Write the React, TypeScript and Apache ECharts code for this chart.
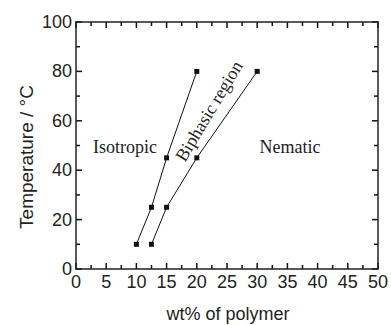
import React, { useEffect, useRef } from "react";
import * as echarts from "echarts";

const isotropicBoundary: [number, number][] = [
  [10, 10],
  [12.5, 25],
  [15, 45],
  [20, 80],
];
const nematicBoundary: [number, number][] = [
  [12.5, 10],
  [15, 25],
  [20, 45],
  [30, 80],
];
const xTitle = "wt% of polymer";
const yTitle = "Temperature / °C";
const regionLabels = ["Isotropic", "Biphasic region", "Nematic"];

const X_MIN = 0;
const X_MAX = 50;
const X_STEP = 5;
const Y_MIN = 0;
const Y_MAX = 100;
const Y_STEP = 20;

const SANS = "'Liberation Sans', Arial, sans-serif";
const SERIF = "'Liberation Serif', 'Times New Roman', serif";

export default function App() {
  const ref = useRef<HTMLDivElement>(null);
  useEffect(() => {
    document.body.style.margin = "0";
    if (!ref.current) return;
    const chart = echarts.init(ref.current, null, { renderer: "svg" });
    const axisCommon = () => ({
      axisLine: { show: true, onZero: false, lineStyle: { color: "#222", width: 1.5 } },
      axisTick: { show: false },
      minorTick: { show: false },
      splitLine: { show: false },
      minorSplitLine: { show: false },
    });
    chart.setOption({
      animation: false,
      grid: { left: 76, right: 10, top: 22, bottom: 56, containLabel: false },
      xAxis: [
        {
          type: "value",
          min: X_MIN,
          max: X_MAX,
          interval: X_STEP,
          position: "bottom",
          ...axisCommon(),
          axisLabel: { color: "#222", fontSize: 18, fontFamily: SANS, margin: 4 },
        },
        {
          type: "value",
          min: X_MIN,
          max: X_MAX,
          interval: X_STEP,
          position: "top",
          ...axisCommon(),
          axisLabel: { show: false },
        },
      ],
      yAxis: [
        {
          type: "value",
          min: Y_MIN,
          max: Y_MAX,
          interval: Y_STEP,
          position: "left",
          ...axisCommon(),
          axisLabel: { color: "#222", fontSize: 18, fontFamily: SANS, margin: 4 },
        },
        {
          type: "value",
          min: Y_MIN,
          max: Y_MAX,
          interval: Y_STEP,
          position: "right",
          ...axisCommon(),
          axisLabel: { show: false },
        },
      ],
      series: [
        {
          type: "line",
          data: isotropicBoundary,
          symbol: "rect",
          symbolSize: 5,
          lineStyle: { color: "#111", width: 1 },
          itemStyle: { color: "#111" },
        },
        {
          type: "line",
          data: nematicBoundary,
          symbol: "rect",
          symbolSize: 5,
          lineStyle: { color: "#111", width: 1 },
          itemStyle: { color: "#111" },
        },
      ],
    });

    // Ticks placed through the chart's own scales (convertToPixel)
    const tickStyle = { stroke: "#111", lineWidth: 1.5 };
    const ticks: any[] = [];
    for (let i = 0; i <= (X_MAX - X_MIN) / (X_STEP / 2); i++) {
      const v = X_MIN + (i * X_STEP) / 2;
      const len = i % 2 === 0 ? 6 : 4;
      const b = chart.convertToPixel({ gridIndex: 0 }, [v, Y_MIN]) as number[];
      const t = chart.convertToPixel({ gridIndex: 0 }, [v, Y_MAX]) as number[];
      ticks.push({ type: "line", silent: true, shape: { x1: b[0], y1: b[1], x2: b[0], y2: b[1] - len }, style: tickStyle });
      ticks.push({ type: "line", silent: true, shape: { x1: t[0], y1: t[1], x2: t[0], y2: t[1] + len }, style: tickStyle });
    }
    for (let i = 0; i <= (Y_MAX - Y_MIN) / (Y_STEP / 2); i++) {
      const v = Y_MIN + (i * Y_STEP) / 2;
      const len = i % 2 === 0 ? 6 : 4;
      const l = chart.convertToPixel({ gridIndex: 0 }, [X_MIN, v]) as number[];
      const r = chart.convertToPixel({ gridIndex: 0 }, [X_MAX, v]) as number[];
      ticks.push({ type: "line", silent: true, shape: { x1: l[0], y1: l[1], x2: l[0] + len, y2: l[1] }, style: tickStyle });
      ticks.push({ type: "line", silent: true, shape: { x1: r[0], y1: r[1], x2: r[0] - len, y2: r[1] }, style: tickStyle });
    }

    const textStyle = (text: string, size: number, family: string) => ({
      text,
      fontSize: size,
      fontFamily: family,
      fill: "#222",
      textAlign: "center",
      textVerticalAlign: "middle",
    });

    chart.setOption({
      graphic: [
        ...ticks,
        { type: "text", x: 228, y: 314, style: textStyle(xTitle, 18, SANS) },
        { type: "text", x: 26, y: 157, rotation: Math.PI / 2, style: textStyle(yTitle, 19, SANS) },
        { type: "text", x: 125, y: 147, style: textStyle(regionLabels[0], 18, SERIF) },
        {
          type: "text",
          x: 209,
          y: 111,
          rotation: (59 * Math.PI) / 180,
          style: textStyle(regionLabels[1], 18, SERIF),
        },
        { type: "text", x: 290, y: 147, style: textStyle(regionLabels[2], 18, SERIF) },
      ],
    });
    return () => chart.dispose();
  }, []);
  return <div ref={ref} style={{ width: 391, height: 325, background: "#fff" }} />;
}
